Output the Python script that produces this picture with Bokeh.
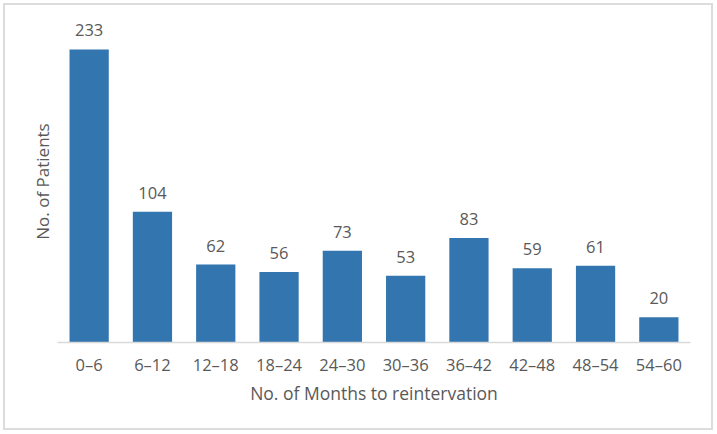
from bokeh.plotting import figure
from bokeh.models import ColumnDataSource, LabelSet, Range1d, FixedTicker
from bokeh.core.properties import value
from bokeh.embed import file_html
from bokeh.resources import INLINE

# Reintervation counts per 6-month window
categories = ["0–6", "6–12", "12–18", "18–24", "24–30",
              "30–36", "36–42", "42–48", "48–54", "54–60"]
patients = [233, 104, 62, 56, 73, 53, 83, 59, 61, 20]

FONT = "Open Sans"
TEXT = "#595959"
BAR = "#3375ae"

src = ColumnDataSource(dict(cat=categories, n=patients,
                            lbl=[str(v) for v in patients]))

p = figure(x_range=categories, y_range=Range1d(0, 256),
           width=706, height=423, output_backend="svg",
           toolbar_location=None, tools="",
           min_border_left=52, min_border_right=21,
           min_border_top=15, min_border_bottom=86)
p.margin = (5, 5, 5, 5)
p.styles = {"outline": "2px solid #dcdcdc"}
p.outline_line_color = None
p.background_fill_color = "white"
p.border_fill_color = "white"
p.grid.grid_line_color = None

p.vbar(x="cat", top="n", width=0.62, source=src,
       fill_color=BAR, line_color=None)

p.add_layout(LabelSet(x="cat", y="n", text="lbl", source=src,
                      y_offset=19, text_align="center",
                      text_baseline="middle", text_font=value(FONT),
                      text_font_size="16.5px", text_color=TEXT))

xa = p.xaxis[0]
xa.axis_label = "No. of Months to reintervation"
xa.axis_label_text_font = FONT
xa.axis_label_text_font_style = "normal"
xa.axis_label_text_font_size = "17.5px"
xa.axis_label_text_color = TEXT
xa.axis_label_standoff = 2
xa.major_label_text_font = FONT
xa.major_label_text_font_size = "16.5px"
xa.major_label_text_color = TEXT
xa.major_label_standoff = 4
xa.axis_line_color = "#d9d9d9"
xa.axis_line_width = 1.5
xa.major_tick_line_color = None
xa.minor_tick_line_color = None

ya = p.yaxis[0]
ya.ticker = FixedTicker(ticks=[])
ya.axis_label = "No. of Patients"
ya.axis_label_text_font = FONT
ya.axis_label_text_font_style = "normal"
ya.axis_label_text_font_size = "17px"
ya.axis_label_text_color = TEXT
ya.axis_label_standoff = 4
ya.axis_line_color = None
ya.major_tick_line_color = None
ya.minor_tick_line_color = None

open("out.html", "w").write(file_html(p, INLINE))
